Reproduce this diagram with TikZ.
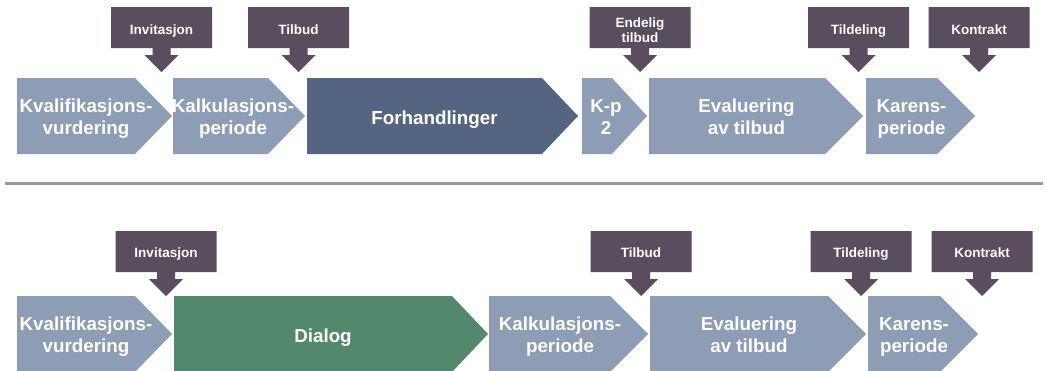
\documentclass[tikz,border=0pt]{standalone}
\usepackage{fontspec}
\setmainfont{Liberation Sans}
\definecolor{chevlight}{HTML}{8C9DB5}
\definecolor{chevdark}{HTML}{536580}
\definecolor{chevgreen}{HTML}{52896D}
\definecolor{callcol}{HTML}{594D5E}
\definecolor{sepcol}{HTML}{9C9C9C}
\newcommand\chevshape[5]{% x0, xbody, xtip, ytop, colour
  \fill[#5] (#1,#4) -- (#2,#4) -- (#3,#4+38) -- (#2,#4+76) -- (#1,#4+76) -- cycle;}
\newcommand\calloutshape[2]{% centre x, top y
  \fill[callcol] (#1-50.5,#2) -- (#1+50.5,#2) -- (#1+50.5,#2+41) -- (#1+9,#2+41)
    -- (#1+9,#2+48) -- (#1+17,#2+48) -- (#1,#2+65) -- (#1-17,#2+48)
    -- (#1-9,#2+48) -- (#1-9,#2+41) -- (#1-50.5,#2+41) -- cycle;}
\tikzset{
  chevtext/.style={text=white, font=\fontsize{18.8}{22}\selectfont\bfseries, align=center, inner sep=0pt, anchor=base},
  calltext/.style={text=white, font=\fontsize{13.5}{15}\selectfont\bfseries, align=center, inner sep=0pt, anchor=base}
}
\begin{document}
\begin{tikzpicture}[x=1pt,y=-1pt]
\useasboundingbox[fill=white] (0,0) rectangle (1045,370);
\begin{scope}
\clip (0,0) rectangle (1045,370);
% ---------- top row ----------
\calloutshape{161.5}{7}
\node[calltext] (tc1) at (161.5,34) {Invitasjon};
\calloutshape{298.5}{7}
\node[calltext] (tc2) at (298.5,34) {Tilbud};
\calloutshape{640}{7}
\node[calltext] (tc3) at (640,42) {Endelig\\tilbud};
\calloutshape{858.5}{7}
\node[calltext] (tc4) at (858.5,34) {Tildeling};
\calloutshape{979}{7}
\node[calltext] (tc5) at (979,34) {Kontrakt};

\chevshape{17}{135}{172}{78}{chevlight}
\node[chevtext] (t1) at (86,134.5) {Kvalifikasjons-\\vurdering};
\chevshape{173}{268}{305}{78}{chevlight}
\node[chevtext] (t2) at (233,134.5) {Kalkulasjons-\\periode};
\chevshape{307}{542}{578}{78}{chevdark}
\node[chevtext] (t3) at (434.5,124) {Forhandlinger};
\chevshape{582}{612}{647}{78}{chevlight}
\node[chevtext] (t4) at (606,134.5) {K-p\\2};
\chevshape{649}{825}{863}{78}{chevlight}
\node[chevtext] (t5) at (746.5,134.5) {Evaluering\\av tilbud};
\chevshape{866}{937}{975}{78}{chevlight}
\node[chevtext] (t6) at (911.5,134.5) {Karens-\\periode};

% ---------- separator ----------
\coordinate (sepL) at (5,183);
\coordinate (sepR) at (1043,183);
\draw[sepcol, line width=3pt] (sepL) -- (sepR);

% ---------- bottom row ----------
\calloutshape{166}{231}
\node[calltext] (bc1) at (166,257.5) {Invitasjon};
\calloutshape{641}{231}
\node[calltext] (bc2) at (641,257.5) {Tilbud};
\calloutshape{861}{231}
\node[calltext] (bc3) at (861,257.5) {Tildeling};
\calloutshape{982}{231}
\node[calltext] (bc4) at (982,257.5) {Kontrakt};

\chevshape{17}{135}{172}{296}{chevlight}
\node[chevtext] (b1) at (86,352.5) {Kvalifikasjons-\\vurdering};
\chevshape{174}{452}{488}{296}{chevgreen}
\node[chevtext] (b2) at (323,342) {Dialog};
\chevshape{489}{610}{648}{296}{chevlight}
\node[chevtext] (b3) at (560,352.5) {Kalkulasjons-\\periode};
\chevshape{650}{828}{866}{296}{chevlight}
\node[chevtext] (b4) at (749,352.5) {Evaluering\\av tilbud};
\chevshape{868}{940}{978}{296}{chevlight}
\node[chevtext] (b5) at (914,352.5) {Karens-\\periode};
\end{scope}
\end{tikzpicture}
\end{document}
